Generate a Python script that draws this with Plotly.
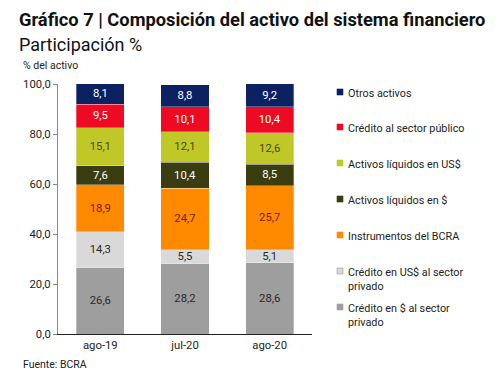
import plotly.graph_objects as go

categories = ["ago-19", "jul-20", "ago-20"]
series_names = [
    "Crédito en $ al sector<br>privado",
    "Crédito en US$ al sector<br>privado",
    "Instrumentos del BCRA",
    "Activos líquidos en $",
    "Activos líquidos en US$",
    "Crédito al sector público",
    "Otros activos",
]
credito_pesos = [26.6, 28.2, 28.6]
credito_usd = [14.3, 5.5, 5.1]
instrumentos_bcra = [18.9, 24.7, 25.7]
liquidos_pesos = [7.6, 10.4, 8.5]
liquidos_usd = [15.1, 12.1, 12.6]
credito_publico = [9.5, 10.1, 10.4]
otros_activos = [8.1, 8.8, 9.2]
series_values = [credito_pesos, credito_usd, instrumentos_bcra, liquidos_pesos,
                 liquidos_usd, credito_publico, otros_activos]
y_ticks = [0, 20, 40, 60, 80, 100]

colors = ["#9e9e9e", "#d9d9d9", "#ff8a00", "#3a3d0f", "#bfc826", "#ef0a24", "#0b2162"]
text_colors = ["#2a2a2a", "#2a2a2a", "#7a1a00", "#ffffff", "#4a4a12", "#ffffff", "#ffffff"]

OFF = 8  # page body margin
W, H = 502 - OFF, 387 - OFF
ML, MR, MT, MB = 58 - OFF, 190, 84 - OFF, 53
PW, PH = W - ML - MR, H - MT - MB

def px(x):
    return (x - OFF - ML) / PW

def py(y):
    return (H - MB - (y - OFF)) / PH

fig = go.Figure()
for name, vals, c, tc in zip(series_names, series_values, colors, text_colors):
    fig.add_trace(go.Bar(
        x=categories, y=vals, name=name,
        marker=dict(color=c, line=dict(color="rgba(255,255,255,0.6)", width=0.5)),
        texttemplate="%{y:.1f}", textposition="inside", insidetextanchor="middle",
        textangle=0, textfont=dict(color=tc, size=11.3, family="Roboto"),
        hoverinfo="skip", showlegend=False,
    ))

fig.update_layout(
    width=W, height=H, barmode="stack", bargap=0.43,
    margin=dict(l=ML, r=MR, t=MT, b=MB, pad=0),
    paper_bgcolor="white", plot_bgcolor="white",
    separators=",.",
    font=dict(family="Roboto", size=11, color="#222222"),
    uniformtext=dict(minsize=11, mode="show"),
    xaxis=dict(showline=True, linecolor="#222222", linewidth=1.3, ticks="",
               tickfont=dict(size=11.3, color="#222222"), showgrid=False, zeroline=False),
    yaxis=dict(range=[0, 100], tickvals=y_ticks, tickformat=".1f", showline=True,
               linecolor="#8a8a8a", linewidth=1, ticks="outside", ticklen=4,
               tickcolor="#8a8a8a", tickfont=dict(size=11.3, color="#222222"),
               showgrid=False, zeroline=False),
)

# Title texts
fig.add_annotation(text="<b>Gráfico 7 | Composición del activo del sistema financiero</b>",
                   xref="paper", yref="paper", x=px(17), y=py(19), xanchor="left", yanchor="middle",
                   showarrow=False, font=dict(size=18.3, color="#111111", family="Roboto"))
fig.add_annotation(text="Participación %",
                   xref="paper", yref="paper", x=px(17), y=py(44), xanchor="left", yanchor="middle",
                   showarrow=False, font=dict(size=18, color="#111111", family="Roboto"))
fig.add_annotation(text="% del activo",
                   xref="paper", yref="paper", x=px(21), y=py(66), xanchor="left", yanchor="middle",
                   showarrow=False, font=dict(size=10.5, color="#222222", family="Roboto"))
fig.add_annotation(text="Fuente: BCRA",
                   xref="paper", yref="paper", x=px(21), y=py(364), xanchor="left", yanchor="middle",
                   showarrow=False, font=dict(size=10.5, color="#222222", family="Roboto"))

# Manual legend (top to bottom)
legend_y = [92, 127, 163, 199, 235, 271, 307]
order = list(range(len(series_names)))[::-1]
for yy, i in zip(legend_y, order):
    fig.add_shape(type="rect", xref="paper", yref="paper",
                  x0=px(337), x1=px(343), y0=py(yy + 3), y1=py(yy - 3),
                  fillcolor=colors[i], line=dict(color="#999999" if i == 1 else colors[i], width=0.6))
    fig.add_annotation(text=series_names[i], xref="paper", yref="paper",
                       x=px(346), y=py(yy - 7), xanchor="left", yanchor="top", align="left",
                       showarrow=False, font=dict(size=10.8, color="#222222", family="Roboto"))

fig.write_html("out.html")
